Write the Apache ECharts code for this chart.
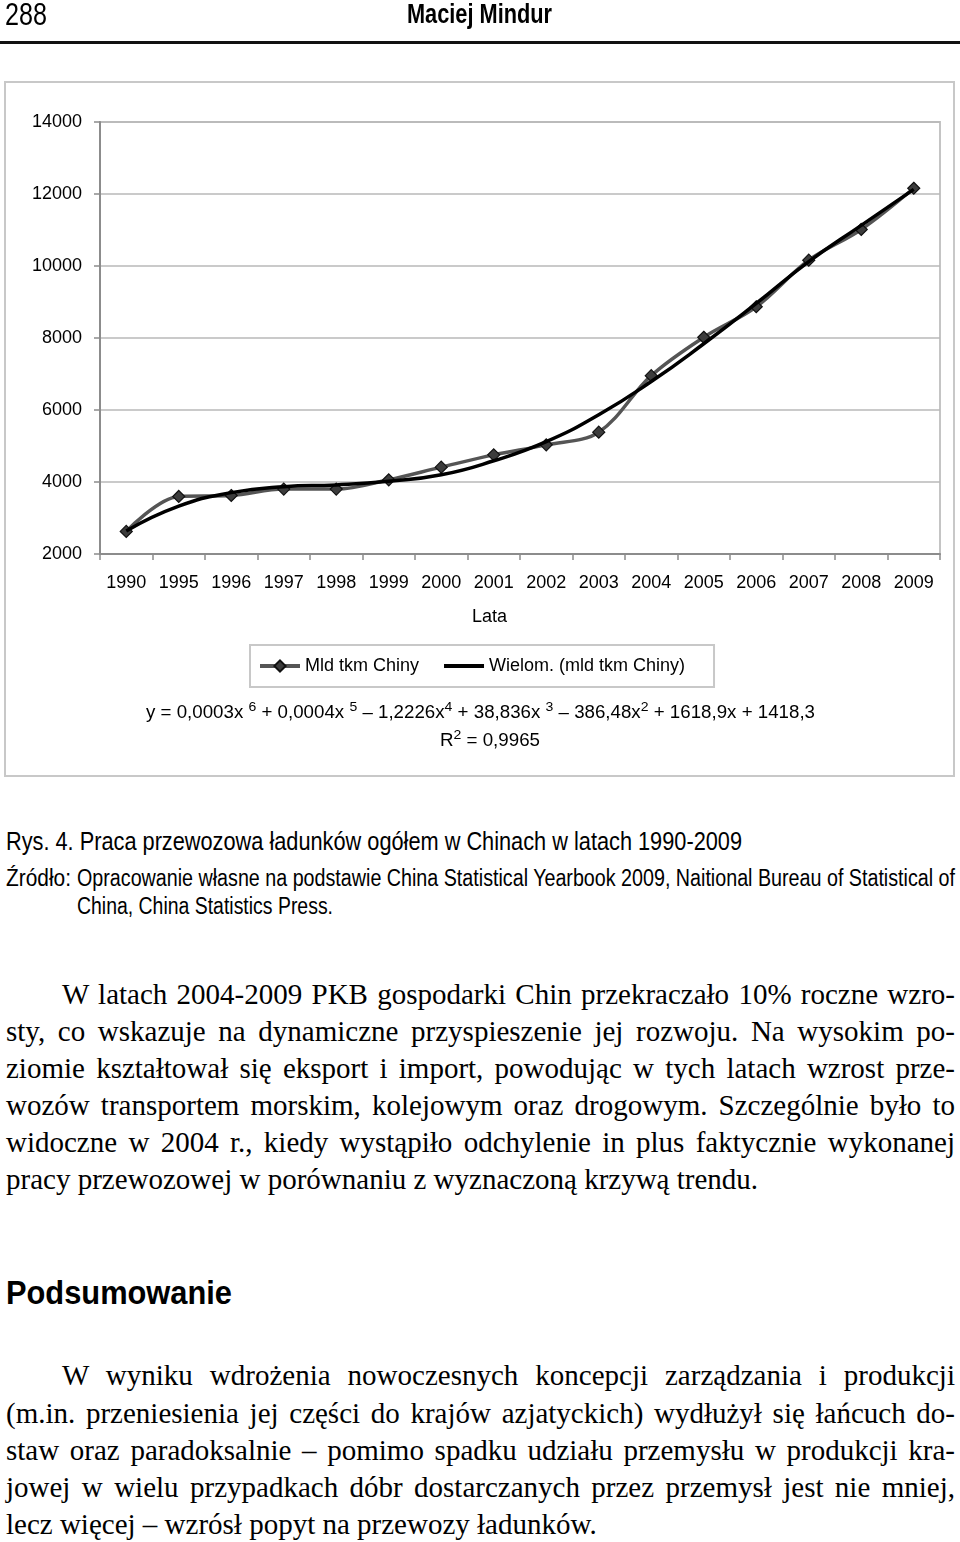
<!DOCTYPE html>
<html><head><meta charset="utf-8">
<script src="https://cdn.jsdelivr.net/npm/echarts@6/dist/echarts.min.js"></script>
<style>
html,body{margin:0;padding:0;background:#fff;}
body{width:960px;height:1542px;position:relative;overflow:hidden;font-family:"Liberation Sans",Arial,sans-serif;color:#000;}
#frame{position:absolute;left:4px;top:81px;width:947px;height:692px;border:2px solid #c8c8c8;}
#chart{position:absolute;left:0;top:0;width:960px;height:800px;}
#rule{position:absolute;left:0;top:41px;width:960px;height:3px;background:#111;}
.t{position:absolute;display:inline-block;white-space:nowrap;line-height:1;transform-origin:0 0;}
.b{font-weight:bold;}
.ser{font-family:"Liberation Serif","Times New Roman",serif;font-size:29px;line-height:37px;}
sup{font-size:0.75em;line-height:0;position:relative;top:-0.5em;vertical-align:baseline;}
</style></head>
<body>
<div id="frame"></div>
<div id="chart"></div>
<div id="rule"></div>

<span class="t" data-m="s" data-w="42" style="left:5px;top:-1px;font-size:31px;">288</span>
<span class="t b" data-m="s" data-w="145" style="left:407px;top:0px;font-size:28px;">Maciej Mindur</span>

<span class="t" id="eq" data-m="s" data-w="669" style="left:146px;top:703px;font-size:18px;">y = 0,0003x <sup>6</sup> + 0,0004x <sup>5</sup> – 1,2226x<sup>4</sup> + 38,836x <sup>3</sup> – 386,48x<sup>2</sup> + 1618,9x + 1418,3</span>
<span class="t" data-m="s" data-w="100" style="left:440px;top:731px;font-size:18px;">R<sup>2</sup> = 0,9965</span>

<span class="t" data-m="s" data-w="736" style="left:6px;top:829px;font-size:25px;">Rys. 4. Praca przewozowa ładunków ogółem w Chinach w latach 1990-2009</span>
<span class="t" data-m="s" data-w="65" style="left:6px;top:867px;font-size:23px;">Źródło:</span>
<span class="t" data-m="s" data-w="878" style="left:77px;top:867px;font-size:23px;">Opracowanie własne na podstawie China Statistical Yearbook 2009, Naitional Bureau of Statistical of</span>
<span class="t" data-m="s" data-w="256" style="left:77px;top:895px;font-size:23px;">China, China Statistics Press.</span>

<span class="t ser" data-m="j" data-w="893" style="left:62px;top:976px;">W latach 2004-2009 PKB gospodarki Chin przekraczało 10% roczne wzro-</span>
<span class="t ser" data-m="j" data-w="949" style="left:6px;top:1013px;">sty, co wskazuje na dynamiczne przyspieszenie jej rozwoju. Na wysokim po-</span>
<span class="t ser" data-m="j" data-w="949" style="left:6px;top:1050px;">ziomie kształtował się eksport i import, powodując w tych latach wzrost prze-</span>
<span class="t ser" data-m="j" data-w="949" style="left:6px;top:1087px;">wozów transportem morskim, kolejowym oraz drogowym. Szczególnie było to</span>
<span class="t ser" data-m="j" data-w="949" style="left:6px;top:1124px;">widoczne w 2004 r., kiedy wystąpiło odchylenie in plus faktycznie wykonanej</span>
<span class="t ser" data-m="n" data-w="756" style="left:6px;top:1161px;">pracy przewozowej w porównaniu z wyznaczoną krzywą trendu.</span>

<span class="t b" data-m="s" data-w="226" style="left:6px;top:1275px;font-size:34px;">Podsumowanie</span>

<span class="t ser" data-m="j" data-w="893" style="left:62px;top:1357px;">W wyniku wdrożenia nowoczesnych koncepcji zarządzania i produkcji</span>
<span class="t ser" data-m="j" data-w="949" style="left:6px;top:1395px;">(m.in. przeniesienia jej części do krajów azjatyckich) wydłużył się łańcuch do-</span>
<span class="t ser" data-m="j" data-w="949" style="left:6px;top:1432px;">staw oraz paradoksalnie – pomimo spadku udziału przemysłu w produkcji kra-</span>
<span class="t ser" data-m="j" data-w="949" style="left:6px;top:1469px;">jowej w wielu przypadkach dóbr dostarczanych przez przemysł jest nie mniej,</span>
<span class="t ser" data-m="n" data-w="594" style="left:6px;top:1506px;">lecz więcej – wzrósł popyt na przewozy ładunków.</span>

<script>
// ---- data ----
const years = ['1990','1995','1996','1997','1998','1999','2000','2001','2002','2003','2004','2005','2006','2007','2008','2009'];
const tkmChiny = [2627, 3598, 3625, 3803, 3803, 4061, 4413, 4754, 5032, 5384, 6954, 8020, 8868, 10163, 11015, 12160];
const trendWielom = [2640, 3330, 3705, 3870, 3920, 4020, 4200, 4590, 5120, 5870, 6790, 7840, 8960, 10120, 11130, 12130];
const yMin = 2000, yMax = 14000, yStep = 2000;
const seriesNames = ['Mld tkm Chiny', 'Wielom. (mld tkm Chiny)'];

function hasFont(f){
  const c=document.createElement('canvas').getContext('2d');
  const s='abcdefghijklmnopqrstuvwxyz0123456789';
  c.font='40px monospace'; const a=c.measureText(s).width;
  c.font='40px "'+f+'", monospace'; return c.measureText(s).width!==a;
}
const narrow = hasFont('Liberation Sans Narrow');
const legendFont = narrow ? {fontFamily:'Liberation Sans Narrow', fontSize:21} : {fontFamily:'Liberation Sans', fontSize:18};

// fit text lines
document.querySelectorAll('.t').forEach(el=>{
  const target=+el.dataset.w, m=el.dataset.m;
  const w=el.getBoundingClientRect().width;
  if(m==='j'){
    const n=(el.textContent.match(/ /g)||[]).length;
    const extra=target-w;
    if(extra>=0&&n>0) el.style.wordSpacing=(extra/n)+'px';
    else el.style.transform='scaleX('+(target/w)+')';
  } else if(m==='s'){
    el.style.transform='scaleX('+(target/w)+')';
  }
});

const chart = echarts.init(document.getElementById('chart'), null, {renderer:'canvas'});
chart.setOption({
  animation:false,
  backgroundColor:'transparent',
  grid:{left:100, top:122, width:840, height:432, show:true, borderColor:'#c4c4c4', borderWidth:2, backgroundColor:'transparent'},
  legend:{
    data:[
      {name:seriesNames[0], lineStyle:{width:4}},
      {name:seriesNames[1], lineStyle:{width:4}, itemStyle:{color:'rgba(0,0,0,0)', borderWidth:0, borderColor:'rgba(0,0,0,0)'}}
    ],
    left:250, top:645, orient:'horizontal',
    padding:[12,29,12,8], itemGap:23, itemWidth:40, itemHeight:14,
    borderColor:'#c8c8c8', borderWidth:2,
    textStyle:Object.assign({color:'#000'}, legendFont)
  },
  xAxis:{
    type:'category', data:years, boundaryGap:true,
    axisLine:{lineStyle:{color:'#8c8c8c', width:2}},
    axisTick:{show:true, length:6, lineStyle:{color:'#8c8c8c', width:1.5}},
    axisLabel:{color:'#000', fontFamily:'Liberation Sans', fontSize:18, margin:20, interval:0},
    splitLine:{show:false}
  },
  yAxis:{
    type:'value', min:yMin, max:yMax, interval:yStep,
    axisLine:{show:true, lineStyle:{color:'#8c8c8c', width:2}},
    axisTick:{show:true, length:6, lineStyle:{color:'#8c8c8c', width:1.5}},
    axisLabel:{color:'#000', fontFamily:'Liberation Sans', fontSize:18, margin:18, formatter:function(v){return String(v);}},
    splitLine:{lineStyle:{color:'#b8b8b8', width:1.5}}
  },
  graphic:[{type:'text', left:472, top:608, style:{text:'Lata', fill:'#000', font:'18px "Liberation Sans", Arial, sans-serif'}}],
  series:[
    {name:seriesNames[0], type:'line', data:tkmChiny, smooth:0.35,
     symbol:'diamond', symbolSize:12,
     lineStyle:{color:'#555', width:3.5},
     itemStyle:{color:'#3c3c3c', borderColor:'#111', borderWidth:1.2}, z:2},
    {name:seriesNames[1], type:'line', data:trendWielom, smooth:0.5,
     symbol:'none', showSymbol:false,
     lineStyle:{color:'#000', width:3.5},
     itemStyle:{color:'#000'}, z:3}
  ]
});
</script>
</body></html>
